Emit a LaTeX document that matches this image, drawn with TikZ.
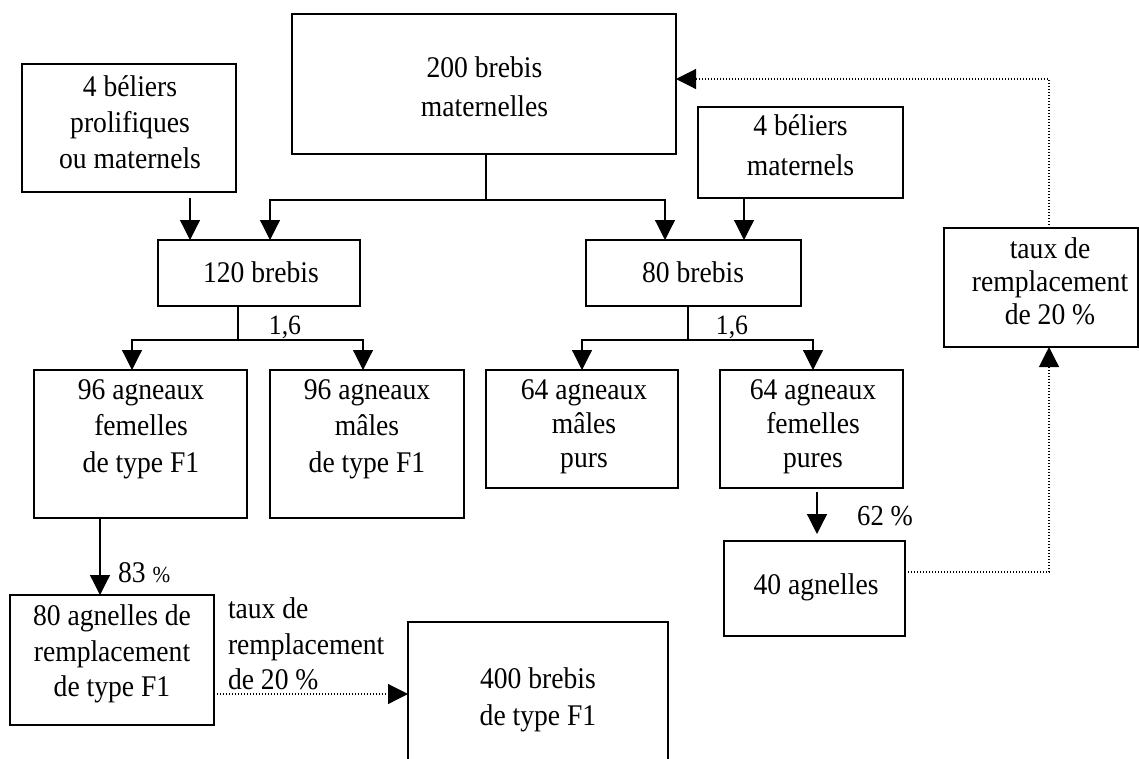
\documentclass[tikz,border=0pt]{standalone}
\usepackage{fontspec}
\setmainfont{Liberation Serif}[FakeStretch=0.92]
\usetikzlibrary{arrows.meta,calc}
\begin{document}
\begin{tikzpicture}[x=1pt,y=-1pt,
  box/.style={draw, line width=1.3pt, inner sep=0pt, outer sep=0pt},
  txt/.style={inner sep=0pt, outer sep=0pt, align=center, font=\fontsize{30}{#1}\selectfont,
    execute at begin node=\strut, execute at end node=\strut},
  txt/.default=36,
  conn/.style={line width=1.2pt},
  arr/.style={conn, -{Triangle[length=20pt,width=20pt]}},
  dots/.style={line width=1.2pt, dash pattern=on 1.2pt off 1.8pt},
  darr/.style={dots, -{Triangle[length=20pt,width=20pt]}},
]
\useasboundingbox (0,0) rectangle (1139,758);
\clip (0,0) rectangle (1139,758);

% boxes
\node[box, minimum width=384pt, minimum height=140pt] (A) at (484,84) {};
\node[box, minimum width=214pt, minimum height=128pt] (B) at (129,128) {};
\node[box, minimum width=202pt, minimum height=66pt]  (C) at (259,273) {};
\node[box, minimum width=205pt, minimum height=91pt]  (D) at (800.5,152.5) {};
\node[box, minimum width=215pt, minimum height=66pt]  (E) at (693.5,273) {};
\node[box, minimum width=194pt, minimum height=119pt] (F) at (1041,287.5) {};
\node[box, minimum width=213pt, minimum height=148pt] (G) at (140.5,444) {};
\node[box, minimum width=194pt, minimum height=148pt] (H) at (367,444) {};
\node[box, minimum width=192pt, minimum height=118pt] (K) at (582,429) {};
\node[box, minimum width=183pt, minimum height=118pt] (L) at (811.5,429) {};
\node[box, minimum width=181pt, minimum height=95pt]  (M) at (814.5,588.5) {};
\node[box, minimum width=204pt, minimum height=130pt] (I) at (112,660) {};
\node[box, minimum width=260pt, minimum height=168pt] (J) at (538,706) {};

% texts
\node[txt=39] (tA) at (484.5,92.7) {200 brebis\\maternelles};
\node[txt=36] (tB) at (130,127.8) {4 béliers\\prolifiques\\ou maternels};
\node[txt=36] (tC) at (261,274.8) {120 brebis};
\node[txt=40] (tD) at (800.5,151) {4 béliers\\maternels};
\node[txt=36] (tE) at (693,274.8) {80 brebis};
\node[txt=33] (tF) at (1050,286.4) {taux de\\remplacement\\de 20 \%};
\node[txt=36.5] (tG) at (141,431.2) {96 agneaux\\femelles\\de type F1};
\node[txt=36.5] (tH) at (367,431.2) {96 agneaux\\mâles\\de type F1};
\node[txt=34] (tK) at (584,428.7) {64 agneaux\\mâles\\purs};
\node[txt=34] (tL) at (813,428.7) {64 agneaux\\femelles\\pures};
\node[txt=36] (tM) at (816,586.8) {40 agnelles};
\node[txt=35.5] (tI) at (112,656.4) {80 agnelles de\\remplacement\\de type F1};
\node[txt=37] (tJ) at (538,702) {400 brebis\\de type F1};
\node[txt=35.5, align=left, anchor=west] (tR) at (228,649.4) {taux de\\remplacement\\de 20 \%};
\node[txt=36, font=\fontsize{28}{36}\selectfont] (r1) at (285,326.8) {1,6};
\node[txt=36, font=\fontsize{28}{36}\selectfont] (r2) at (732,326.8) {1,6};
\node[txt=36, anchor=west] (p83) at (118,575) {83 {\fontsize{23}{26}\selectfont\%}};
\node[txt=36, font=\fontsize{29}{36}\selectfont] (p62) at (885,518) {62 \%};

% connectors from the 200 brebis box
\coordinate (ja) at ($(A.south)+(2,46)$);
\draw[conn] (ja |- A.south) -- (ja);
\draw[arr] (ja) -| ($(C.north)+(11,0)$);
\draw[arr] (ja) -| ($(E.north)+(-28.5,0)$);

% rams to ewes
\coordinate (b1) at ($(B.south)+(61,6)$);
\draw[arr] (b1) -- (b1 |- C.north);
\coordinate (d1) at ($(D.south)+(-56.5,0)$);
\draw[arr] (d1) -- (d1 |- E.north);

% 120 brebis split
\coordinate (jc) at ($(C.south)+(-21,34)$);
\draw[conn] (jc |- C.south) -- (jc);
\draw[arr] (jc) -| ($(G.north)+(-8.5,0)$);
\draw[arr] (jc) -| ($(H.north)+(-4,0)$);

% 80 brebis split
\coordinate (je) at ($(E.south)+(-5.5,34)$);
\draw[conn] (je |- E.south) -- (je);
\draw[arr] (je) -| (K.north);
\draw[arr] (je) -| ($(L.north)+(1.5,0)$);

% 96 femelles -> 80 agnelles
\coordinate (g1) at ($(G.south)+(-40.5,0)$);
\draw[arr] (g1) -- (g1 |- I.north);

% 64 femelles -> 40 agnelles
\coordinate (l1) at ($(L.south)+(5.5,4)$);
\coordinate (m1) at ($(l1 |- M.north)+(0,-7)$);
\draw[arr] (l1) -- (m1);

% dotted feedback
\coordinate (m2) at ($(M.east)+(0,-16.5)$);
\draw[darr] (m2) -| ($(F.south)+(8,0)$);
\draw[darr] ($(F.north)+(8,0)$) |- ($(A.east)+(0,-5)$);

% 80 agnelles -> 400 brebis
\coordinate (i1) at ($(I.east)+(0,34)$);
\draw[darr] (i1) -- (i1 -| J.west);
\end{tikzpicture}
\end{document}
